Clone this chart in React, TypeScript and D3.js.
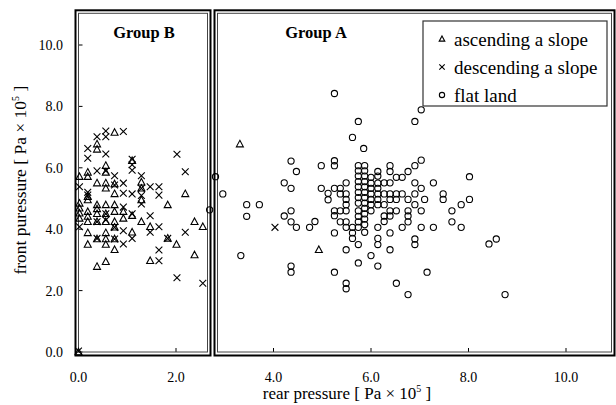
import React from "react";
import * as d3 from "d3";

const xTicks = [0, 2, 4, 6, 8, 10];
const yTicks = [0, 2, 4, 6, 8, 10];
const legendLabels = ["ascending a slope", "descending a slope", "flat land"];
const groupLabels = ["Group B", "Group A"];

const ascending: [number, number][] = [
  [0.0, 0.0],
  [0.02, 5.71], [0.02, 4.84], [0.02, 4.68], [0.02, 4.52], [0.02, 4.35],
  [0.19, 5.85], [0.19, 5.71], [0.19, 5.06], [0.19, 4.95], [0.19, 4.57], [0.19, 4.41], [0.19, 4.24], [0.19, 3.88], [0.19, 3.5],
  [0.38, 6.77], [0.38, 6.6], [0.38, 5.5], [0.38, 4.79], [0.38, 4.66], [0.38, 4.5], [0.38, 4.24], [0.38, 3.68], [0.38, 2.78],
  [0.56, 6.07], [0.56, 5.85], [0.56, 5.5], [0.56, 5.33], [0.56, 4.79], [0.56, 4.5], [0.56, 4.24], [0.56, 3.88], [0.56, 3.68], [0.56, 3.5], [0.56, 2.94],
  [0.74, 7.15], [0.74, 5.47], [0.74, 5.15], [0.74, 4.79], [0.74, 4.57], [0.74, 4.24], [0.74, 4.06], [0.74, 3.68], [0.74, 3.33],
  [0.92, 4.57], [0.92, 4.35],
  [1.1, 6.23], [1.1, 4.44], [1.1, 3.9],
  [1.29, 5.53], [1.29, 5.33], [1.29, 4.95], [1.29, 4.24],
  [1.47, 4.08], [1.47, 2.97],
  [1.83, 4.79], [1.83, 3.7],
  [2.01, 3.5],
  [2.19, 5.15],
  [2.38, 4.24], [2.38, 3.16],
  [2.55, 4.08],
  [3.31, 6.77], [4.93, 3.33],
];

const descending: [number, number][] = [
  [0.0, 0.03],
  [0.02, 5.38], [0.02, 4.08],
  [0.19, 6.63], [0.19, 6.31], [0.19, 5.2], [0.19, 5.11],
  [0.38, 7.01], [0.38, 5.9], [0.38, 4.24], [0.38, 3.7],
  [0.56, 7.2], [0.56, 7.01], [0.56, 6.45], [0.56, 5.9], [0.56, 4.5], [0.56, 4.3],
  [0.74, 5.74], [0.74, 5.44], [0.74, 4.06], [0.74, 3.68],
  [0.92, 7.18], [0.92, 5.5], [0.92, 5.17], [0.92, 4.72], [0.92, 3.95], [0.92, 3.52],
  [1.1, 6.28], [1.1, 6.1], [1.1, 5.92], [1.1, 5.15], [1.1, 4.5], [1.1, 3.7],
  [1.29, 5.74], [1.29, 5.33], [1.29, 5.1], [1.29, 4.82],
  [1.47, 5.38], [1.47, 4.44], [1.47, 3.9],
  [1.65, 5.38], [1.65, 5.11], [1.65, 4.08], [1.65, 3.32], [1.65, 2.97],
  [1.83, 3.7],
  [2.02, 6.44], [2.02, 2.42],
  [2.19, 5.87], [2.19, 3.9],
  [2.55, 2.24],
  [4.03, 4.06],
];

const flatLand: [number, number][] = [
  [2.69, 4.63], [2.81, 5.71], [2.96, 5.15], [3.33, 3.14], [3.45, 4.8], [3.45, 4.42], [3.71, 4.8],
  [4.22, 5.51], [4.22, 4.43], [4.36, 6.22], [4.36, 5.33], [4.36, 4.6], [4.36, 4.24], [4.36, 2.8], [4.36, 2.6], [4.47, 5.88], [4.47, 4.06],
  [4.74, 4.06], [4.85, 4.25], [4.98, 6.07], [4.98, 5.33], [5.12, 5.17], [5.12, 4.96],
  [5.25, 8.42], [5.25, 6.23], [5.25, 6.07], [5.25, 5.33], [5.25, 4.6], [5.25, 4.44], [5.25, 3.88], [5.25, 2.6],
  [5.37, 5.33], [5.37, 5.15], [5.37, 4.6], [5.37, 4.24],
  [5.49, 5.51], [5.49, 5.15], [5.49, 4.97], [5.49, 4.8], [5.49, 4.6], [5.49, 4.24], [5.49, 4.06], [5.49, 3.33], [5.49, 2.24], [5.49, 2.06],
  [5.62, 6.99], [5.62, 4.06], [5.62, 3.88], [5.62, 3.7],
  [5.74, 7.51], [5.74, 6.07], [5.74, 5.9], [5.74, 5.73], [5.74, 5.55], [5.74, 5.38], [5.74, 5.2], [5.74, 5.03], [5.74, 4.85], [5.74, 4.6], [5.74, 4.42], [5.74, 4.24], [5.74, 4.06], [5.74, 3.5], [5.74, 2.9],
  [5.85, 6.63],
  [5.87, 6.07], [5.87, 5.9], [5.87, 5.73], [5.87, 5.55], [5.87, 5.38], [5.87, 5.2], [5.87, 5.03], [5.87, 4.85], [5.87, 4.68], [5.87, 4.5], [5.87, 4.33], [5.87, 4.15], [5.87, 3.9],
  [6.0, 5.69], [6.0, 5.5], [6.0, 5.33], [6.0, 5.15], [6.0, 4.97], [6.0, 4.8], [6.0, 4.6], [6.0, 3.14],
  [6.14, 5.88], [6.14, 5.73], [6.14, 5.5], [6.14, 5.33], [6.14, 5.15], [6.14, 4.97], [6.14, 4.8], [6.14, 4.06], [6.14, 3.7], [6.14, 3.5], [6.14, 2.8],
  [6.27, 5.51], [6.27, 5.15], [6.27, 4.8], [6.27, 4.43], [6.27, 4.25],
  [6.39, 6.07], [6.39, 5.88], [6.39, 5.51], [6.39, 5.15], [6.39, 4.97], [6.39, 4.6], [6.39, 4.43], [6.39, 3.88], [6.39, 3.33],
  [6.52, 5.69], [6.52, 5.15], [6.52, 4.97], [6.52, 4.6], [6.52, 2.24],
  [6.64, 5.69], [6.64, 5.15], [6.64, 4.06],
  [6.76, 5.88], [6.76, 4.97], [6.76, 4.6], [6.76, 4.43], [6.76, 4.24], [6.76, 1.87],
  [6.9, 7.51], [6.9, 6.07], [6.9, 5.51], [6.9, 5.15], [6.9, 4.8], [6.9, 3.68], [6.9, 3.5],
  [7.03, 7.89], [7.03, 6.25], [7.03, 5.33], [7.03, 4.6], [7.03, 4.06],
  [7.1, 4.97], [7.15, 2.6], [7.28, 5.51], [7.28, 4.06], [7.48, 5.15], [7.48, 4.97], [7.66, 4.6], [7.66, 4.24],
  [7.85, 4.8], [7.85, 4.06], [8.02, 5.71], [8.02, 4.97], [8.42, 3.52], [8.57, 3.68], [8.75, 1.87],
];

const FONT = "'Liberation Serif', 'Times New Roman', serif";

function Tri({ x, y, s = 1 }: { x: number; y: number; s?: number }) {
  const d = `M${x},${y - 3.8 * s}L${x + 3.5 * s},${y + 2.7 * s}L${x - 3.5 * s},${y + 2.7 * s}Z`;
  return <path d={d} fill="none" stroke="#000" strokeWidth={1.1} />;
}
function Cross({ x, y, s = 1 }: { x: number; y: number; s?: number }) {
  const r = 3.4 * s;
  return (
    <path
      d={`M${x - r},${y - r}L${x + r},${y + r}M${x - r},${y + r}L${x + r},${y - r}`}
      fill="none"
      stroke="#000"
      strokeWidth={1.1}
    />
  );
}
function Circ({ x, y, s = 1 }: { x: number; y: number; s?: number }) {
  return <circle cx={x} cy={y} r={3.1 * s} fill="none" stroke="#000" strokeWidth={1.1} />;
}

export default function App() {
  const x = d3.scaleLinear().domain([0, 10]).range([78.5, 566]);
  const y = d3.scaleLinear().domain([0, 10]).range([352, 45]);
  const top = y(11);
  const bottom = y(0);
  const left = x(0);

  const boxB = { x0: 75.5, x1: 210.5 };
  const boxA = { x0: 214.5, x1: 614.5 };

  return (
    <svg
      width={616}
      height={405}
      style={{ position: "absolute", left: 0, top: 0, background: "#fff" }}
      fontFamily={FONT}
    >
      <rect width={616} height={405} fill="#fff" />
      {yTicks.map((t) => (
        <g key={"yt" + t}>
          <line x1={left} x2={left + 4} y1={y(t)} y2={y(t)} stroke="#000" />
          <text x={63} y={y(t) + 5} textAnchor="end" fontSize={14}>
            {d3.format(".1f")(t)}
          </text>
        </g>
      ))}
      {xTicks.map((t) => (
        <g key={"xt" + t}>
          <line x1={x(t)} x2={x(t)} y1={bottom} y2={bottom - 4} stroke="#000" />
          <text x={x(t)} y={382} textAnchor="middle" fontSize={14}>
            {d3.format(".1f")(t)}
          </text>
        </g>
      ))}

      {[boxB, boxA].map((b, i) => (
        <g key={"box" + i}>
          <rect
            x={b.x0}
            y={top - 4}
            width={b.x1 - b.x0}
            height={bottom + 3.5 - (top - 4)}
            fill="none"
            stroke="#000"
            strokeWidth={2}
          />
          <rect
            x={b.x0 + 3}
            y={top - 1}
            width={b.x1 - b.x0 - 6}
            height={bottom - (top - 1)}
            fill="none"
            stroke="#444"
            strokeWidth={1}
          />
        </g>
      ))}

      <text x={144} y={38} textAnchor="middle" fontSize={16.5} fontWeight="bold">
        {groupLabels[0]}
      </text>
      <text x={316} y={38} textAnchor="middle" fontSize={16.5} fontWeight="bold">
        {groupLabels[1]}
      </text>

      {flatLand.map((d, i) => (
        <Circ key={"c" + i} x={x(d[0])} y={y(d[1])} />
      ))}
      {ascending.map((d, i) => (
        <Tri key={"t" + i} x={x(d[0])} y={y(d[1])} />
      ))}
      {descending.map((d, i) => (
        <Cross key={"x" + i} x={x(d[0])} y={y(d[1])} />
      ))}

      <rect x={423} y={21} width={184} height={85} fill="#fff" stroke="#333" strokeWidth={1.2} />
      {legendLabels.map((lab, i) => {
        const cy = 39 + i * 28;
        return (
          <g key={"lg" + i}>
            {i === 0 && <Tri x={442} y={cy} s={0.8} />}
            {i === 1 && <Cross x={442} y={cy} s={0.8} />}
            {i === 2 && <Circ x={442} y={cy} s={0.85} />}
            <text x={454} y={cy + 6.5} fontSize={19}>
              {lab}
            </text>
          </g>
        );
      })}

      <text x={347} y={399} textAnchor="middle" fontSize={17}>
        rear pressure [ Pa × 10
        <tspan dy={-7} fontSize={10}>5</tspan>
        <tspan dy={7}> ]</tspan>
      </text>
      <text
        transform={`translate(26,${(top + bottom) / 2 - 3}) rotate(-90)`}
        textAnchor="middle"
        fontSize={17.5}
      >
        front puressure [ Pa × 10
        <tspan dy={-7} fontSize={10}>5</tspan>
        <tspan dy={7}> ]</tspan>
      </text>
    </svg>
  );
}
